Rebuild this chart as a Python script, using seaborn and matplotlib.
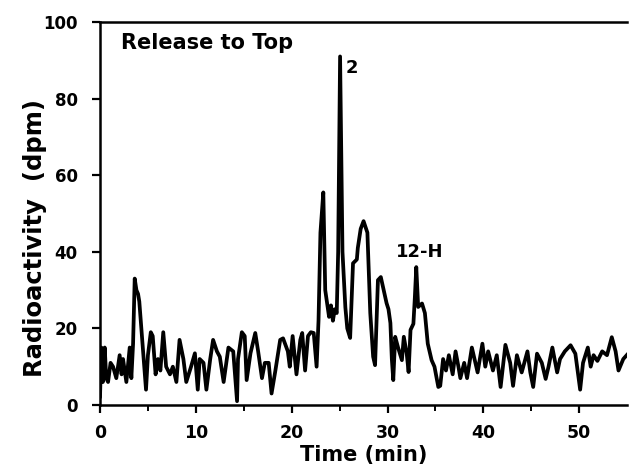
import matplotlib
matplotlib.use("Agg")
import matplotlib.pyplot as plt
import pandas as pd
import seaborn as sns

# trace vertices (time in min, activity in dpm)
time_min = [0.0, 0.14, 0.3, 0.49, 0.65, 0.84, 1.1, 1.36, 1.7, 2.05, 2.25, 2.4, 2.75, 3.1, 3.27, 3.45, 3.62,
            3.8, 3.97, 4.1, 4.5, 4.8, 5.0, 5.3, 5.5, 5.8, 6.05, 6.3, 6.6, 6.9, 7.3, 7.6, 7.97, 8.3,
            8.7, 9.0, 9.5, 9.9, 10.2, 10.4, 10.8, 11.1, 11.5, 11.8, 12.2, 12.5, 12.9, 13.4, 13.9,
            14.3, 14.4, 14.8, 15.1, 15.3, 15.7, 16.2, 16.5, 16.9, 17.2, 17.6, 17.9, 18.3, 18.8,
            19.1, 19.6, 19.8, 20.1, 20.5, 20.9, 21.1, 21.4, 21.7, 22.0, 22.3, 22.6, 22.8, 23.0,
            23.3, 23.5, 23.7, 23.9, 24.1, 24.3, 24.5, 24.7, 24.85, 25.05, 25.3, 25.6, 25.8, 26.1,
            26.4, 26.8, 26.9, 27.2, 27.5, 27.9, 28.2, 28.5, 28.7, 29.0, 29.3, 29.6, 29.9, 30.1,
            30.3, 30.45, 30.6, 30.8, 31.1, 31.5, 31.7, 32.0, 32.2, 32.4, 32.7, 32.85, 33.0, 33.2,
            33.6, 33.9, 34.2, 34.6, 34.9, 35.3, 35.5, 35.8, 36.1, 36.4, 36.8, 37.1, 37.4, 37.6,
            38.0, 38.3, 38.8, 39.4, 39.9, 40.2, 40.5, 41.0, 41.4, 41.8, 42.3, 42.8, 43.1, 43.5,
            44.0, 44.6, 44.9, 45.2, 45.6, 46.1, 46.5, 46.8, 47.2, 47.7, 48.0, 48.5, 49.1, 49.6,
            50.1, 50.4, 50.9, 51.2, 51.5, 51.9, 52.4, 52.9, 53.4, 53.8, 54.1, 54.6, 55.1]
activity = [2, 15, 6, 15, 7, 6, 11, 10, 7, 13, 8, 12, 6, 15, 7, 16, 33,
            30, 29, 27, 14, 4, 13, 19, 18, 8, 12, 9, 19, 10, 8, 10, 6, 17,
            12, 6, 10, 13.5, 4, 12, 11, 4, 12, 17, 14, 12.6, 6, 15, 14,
            1, 12, 19, 18, 6.5, 13.5, 18.8, 14, 7, 11, 11, 3, 9, 17,
            17.4, 14, 10, 18, 8, 17, 18.8, 9, 18, 19, 18.8, 10, 22, 45,
            55.5, 30, 26.5, 23, 26, 22, 25, 24, 40, 91, 40, 25.5, 20, 17.5,
            37, 38, 41, 46, 48, 45, 24, 12.6, 10.4, 32.6, 33.4, 30, 26.6, 25,
            21.4, 12, 6.5, 17.8, 15, 11.7, 17.8, 13.5, 8.6, 19.6, 21.2, 28, 36, 25.6,
            26.5, 24, 16, 11.7, 10, 4.7, 5, 12, 9, 13, 8, 14, 10, 7,
            11, 7, 15, 8.5, 16, 10, 14, 9, 13, 4.7, 15.7, 11, 5, 13,
            8.5, 14, 8.5, 4.7, 13.4, 11, 6.8, 10, 15, 8.5, 12, 14, 15.6, 13.4,
            4, 11, 15, 10, 13, 11.5, 14, 13, 17.7, 14, 9, 12, 13.4]

x_ticks = [0, 10, 20, 30, 40, 50]
y_ticks = [0, 20, 40, 60, 80, 100]
panel_label = "Release to Top"
peak_labels = ["2", "12-H"]
peak_pos = [(26.3, 88), (33.4, 40)]

df = pd.DataFrame({"time": time_min, "dpm": activity})

sns.set_style("ticks")
plt.rcParams["font.family"] = ["DejaVu Sans"]
plt.rcParams["font.weight"] = "bold"
plt.rcParams["text.color"] = "black"
plt.rcParams["axes.labelcolor"] = "black"
plt.rcParams["xtick.color"] = "black"
plt.rcParams["ytick.color"] = "black"

fig = plt.figure(figsize=(6.29, 4.73), dpi=100)
ax = fig.add_axes([0.159, 0.1438, 0.838, 0.8097])

sns.lineplot(data=df, x="time", y="dpm", color="black", linewidth=2.7, ax=ax,
             sort=False, estimator=None)

ax.set_xlim(0, 55)
ax.set_ylim(0, 100)
ax.set_xticks(x_ticks)
ax.set_xticks([5, 15, 25, 35, 45], minor=True)
ax.set_yticks(y_ticks)
ax.set_xticklabels([str(t) for t in x_ticks], fontsize=12.5, fontweight="bold")
ax.set_yticklabels([str(t) for t in y_ticks], fontsize=12, fontweight="bold")
ax.tick_params(axis="both", which="major", length=6, width=1.6, direction="out")
ax.tick_params(axis="x", which="major", pad=8)
ax.tick_params(axis="y", which="major", pad=10)
ax.tick_params(axis="x", which="minor", length=4, width=1.4, direction="out")

for side in ["left", "bottom", "top"]:
    ax.spines[side].set_linewidth(1.8)
    ax.spines[side].set_color("black")
ax.spines["right"].set_visible(False)

ax.set_xlabel("Time (min)", fontsize=15, fontweight="bold", labelpad=2)
ax.set_ylabel("Radioactivity  (dpm)", fontsize=17.5, fontweight="bold")
ax.yaxis.set_label_coords(-0.1, 0.435)

ax.text(2.2, 94.5, panel_label, fontsize=15, fontweight="bold", ha="left", va="center")
for lab, (px, py) in zip(peak_labels, peak_pos):
    ax.text(px, py, lab, fontsize=13, fontweight="bold", ha="center", va="center")

fig.savefig("out.png", dpi=100)
